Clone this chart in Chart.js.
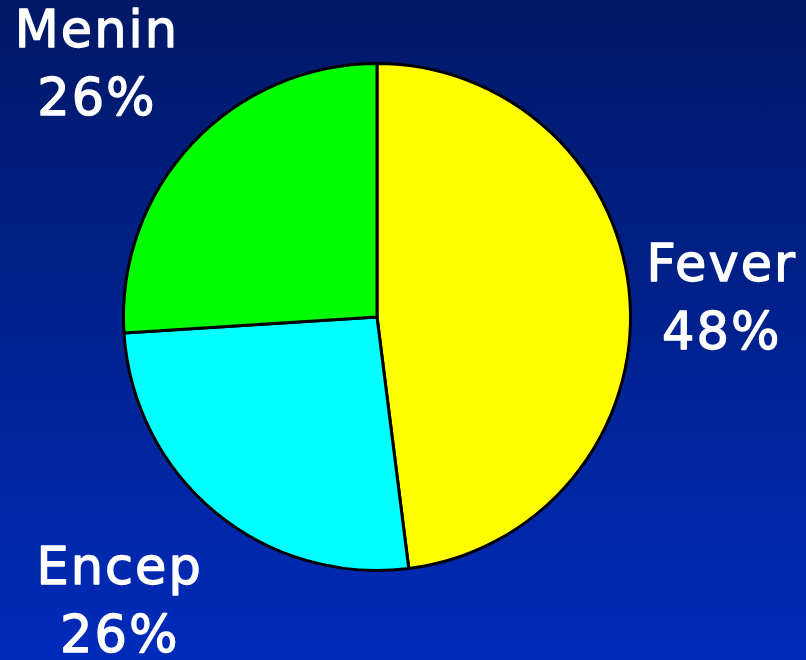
<!DOCTYPE html>
<html>
<head>
<meta charset="utf-8">
<script src="https://cdn.jsdelivr.net/npm/chart.js@4.4.0/dist/chart.umd.min.js"></script>
<style>
    html, body { margin: 0; padding: 0; }
    #wrap {
        width: 806px;
        height: 660px;
        background: linear-gradient(to bottom, #001866 0%, #00228f 50%, #002bba 100%);
    }
</style>
</head>
<body>
<div id="wrap"><canvas id="myChart"></canvas></div>
<script>
// dados do gráfico
var categories = ['Fever', 'Encep', 'Menin'];
var percents = [48, 26, 26];
var sliceColors = ['#ffff00', '#00ffff', '#00ff00'];

// posição dos rótulos relativa ao centro (em múltiplos do raio)
var labelOffset = [[1.36, -0.075], [-1.015, 1.12], [-1.105, -1.0]];

var labelPlugin = {
    id: 'sliceLabels',
    afterDatasetsDraw: function(chart) {
        var ctx = chart.ctx;
        var meta = chart.getDatasetMeta(0);
        ctx.save();
        ctx.fillStyle = '#ffffff';
        ctx.strokeStyle = '#ffffff';
        ctx.lineWidth = 1.3;
        ctx.lineJoin = 'round';
        ctx.font = '51px "DejaVu Sans"';
        ctx.textAlign = 'center';
        ctx.textBaseline = 'alphabetic';
        if ('letterSpacing' in ctx) ctx.letterSpacing = '2px';
        meta.data.forEach(function(arc, i) {
            var p = arc.getProps(['x', 'y', 'outerRadius'], true);
            var cx = p.x + labelOffset[i][0] * p.outerRadius;
            var cy = p.y + labelOffset[i][1] * p.outerRadius;
            var lines = [categories[i], percents[i] + '%'];
            [cy - 17, cy + 51].forEach(function(y, k) {
                ctx.fillText(lines[k], cx, y);
                ctx.strokeText(lines[k], cx, y);
            });
        });
        ctx.restore();
    }
};

var ctx = document.getElementById('myChart').getContext('2d');
var myChart = new Chart(ctx, {
    type: 'pie',
    data: {
        labels: categories,
        datasets: [{
            data: percents,
            backgroundColor: sliceColors,
            borderColor: '#000000',
            borderWidth: 3
        }]
    },
    options: {
        responsive: true,
        maintainAspectRatio: false,
        animation: false,
        layout: {
            padding: { left: 122, right: 174, top: 62, bottom: 88 }
        },
        plugins: {
            legend: { display: false },
            tooltip: { enabled: false }
        }
    },
    plugins: [labelPlugin]
});
</script>
</body>
</html>
